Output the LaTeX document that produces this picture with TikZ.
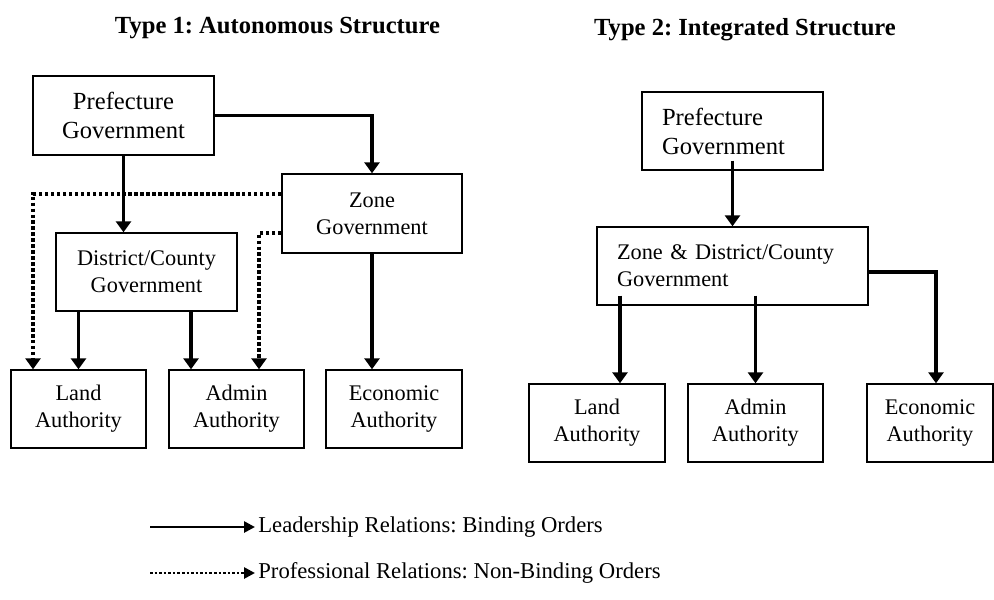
\documentclass[tikz,border=0pt]{standalone}
\usepackage{fontspec}
\setmainfont{Liberation Serif}
\frenchspacing
\usetikzlibrary{arrows.meta}

\tikzset{
	unit/.style={draw,line width=0.8pt,minimum height=1.56cm,align=center,font=\fontsize{12.7}{15.3}\selectfont},
	head/.style={draw,line width=0.8pt,minimum height=1.58cm,align=center,font=\fontsize{14}{16.5}\selectfont},
	lead/.style={line width=2pt,-{Triangle[width=0.3cm,length=0.22cm]}},
	prof/.style={line width=2pt,dash pattern=on 2pt off 1.4pt,-{Triangle[width=0.3cm,length=0.22cm]}},
	keylead/.style={line width=1.5pt,-{Triangle[width=0.22cm,length=0.22cm]}},
	keyprof/.style={line width=1.5pt,dash pattern=on 1.5pt off 1.1pt,-{Triangle[width=0.22cm,length=0.22cm]}},
	title/.style={anchor=base,font=\bfseries\fontsize{14}{17}\selectfont},
	keytext/.style={anchor=west,inner sep=0.06cm,font=\fontsize{12.9}{15.5}\selectfont}
}

\begin{document}
\begin{tikzpicture}[x=0.02cm,y=-0.02cm]
	\useasboundingbox (0,0) rectangle (994,599);

	\node (ttlA) [title] at (277.5,33) {Type 1: Autonomous Structure};
	\node (ttlB) [title] at (745,35) {Type 2: Integrated Structure};

	% Type 1
	\node (pfL) [head,minimum width=3.62cm] at (123.5,115.5) {Prefecture\\Government};
	\begin{scope}[every node/.style={unit}]
		\node (zoneL) [minimum width=3.6cm,minimum height=1.58cm] at (372,213.5) {Zone\\Government};
		\node (dcL) [minimum width=3.62cm] at (146.5,272) {District/County\\Government};
		\node (landL) [minimum width=2.7cm] at (78.5,409) {Land\\Authority};
		\node (admL) [minimum width=2.7cm] at (236.5,409) {Admin\\Authority};
		\node (ecoL) [minimum width=2.72cm] at (394,409) {Economic\\Authority};
	\end{scope}

	\draw [lead] (pfL.east) -| (zoneL.north);
	\draw [lead] (pfL.south) -- (pfL.south |- dcL.north);
	\draw [lead] (zoneL.south) -- (zoneL.south |- ecoL.north);
	\draw [lead] (dcL.south -| landL.north) -- (landL.north);
	\draw [lead] ([xshift=-0.91cm]admL.north |- dcL.south) -- ([xshift=-0.91cm]admL.north);
	\draw [prof] ([yshift=0.39cm]zoneL.west) -| ([xshift=-0.91cm]landL.north);
	\draw [prof] ([yshift=-0.39cm]zoneL.west) -| ([xshift=0.45cm]admL.north);

	% Type 2
	\node (pfR) [head,align=left,text width=2.82cm,inner xsep=0.4cm,minimum height=1.56cm] at (732.5,131) {Prefecture\\Government};
	\begin{scope}[every node/.style={unit}]
		\node (zdR) [align=left,text width=4.62cm,inner xsep=0.4cm] at (732.5,266) {\makebox[4.62cm][s]{Zone \& District/County}\\Government};
		\node (landR) [minimum width=2.72cm] at (597,423) {Land\\Authority};
		\node (admR) [minimum width=2.7cm] at (755.5,423) {Admin\\Authority};
		\node (ecoR) [minimum width=2.52cm] at (930,423) {Economic\\Authority};
	\end{scope}

	\coordinate (zdRin) at ([yshift=0.2cm]zdR.south);
	\coordinate (landRin) at ([xshift=0.46cm]landR.north);
	\draw [lead] ([yshift=0.2cm]pfR.south) -- (pfR.south |- zdR.north);
	\draw [lead] (landRin |- zdRin) -- (landRin);
	\draw [lead] (admR.north |- zdRin) -- (admR.north);
	\draw [lead] ([yshift=-0.12cm]zdR.east) -| ([xshift=0.12cm]ecoR.north);

	% key
	\coordinate (keyA) at (150,527);
	\coordinate (keyB) at (150,573);
	\node (keyAtxt) [keytext] at (255,527) {Leadership Relations: Binding Orders};
	\node (keyBtxt) [keytext] at (255,573) {Professional Relations: Non-Binding Orders};
	\draw [keylead] (keyA) -- (keyAtxt.west);
	\draw [keyprof] (keyB) -- (keyBtxt.west);
\end{tikzpicture}
\end{document}
